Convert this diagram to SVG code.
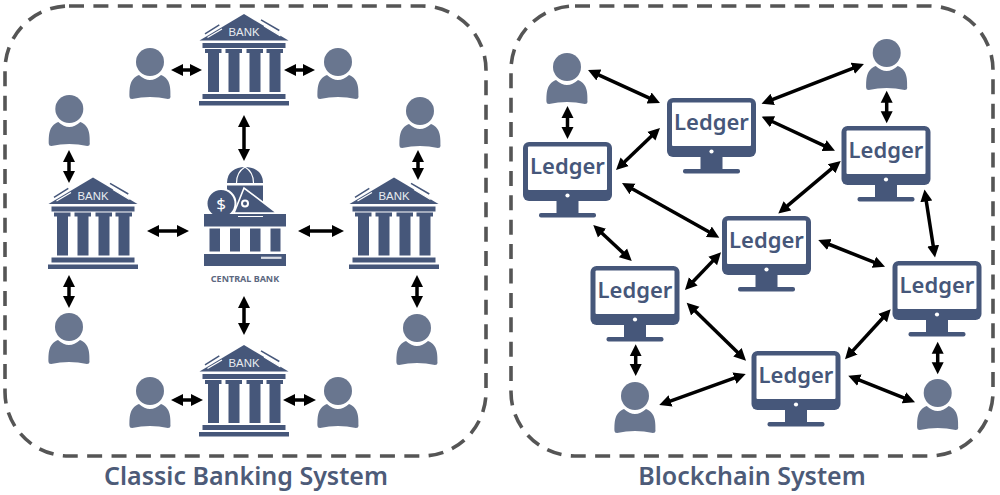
<svg xmlns="http://www.w3.org/2000/svg" width="1000" height="495" viewBox="0 0 1000 495">
<style>
.frame{fill:none;stroke:#555;stroke-width:3.6;stroke-dasharray:15 9.4}
.dark{fill:#46577a}
.person{fill:#69768f}
.cut{fill:#fff}
.conn line{stroke:#000;stroke-width:3.5;marker-start:url(#head);marker-end:url(#head)}
text{font-family:"Noto Sans","Open Sans","Liberation Sans",sans-serif}
.title{font-size:25px;font-weight:600;fill:#4d5b78;text-anchor:middle}
.ledger{font-size:22px;font-weight:600;fill:#46577a;text-anchor:middle}
.bank{font-family:"Liberation Sans",sans-serif;font-size:11.4px;fill:#e8ebf0;text-anchor:middle}
.cb{font-size:9px;font-weight:700;fill:#5c6880;text-anchor:middle}
.dollar{font-size:17px;fill:#fff;text-anchor:middle}
</style>
<defs>
<marker id="head" markerUnits="userSpaceOnUse" markerWidth="14" markerHeight="14" viewBox="0 -7 14 14" refX="4" refY="0" orient="auto-start-reverse">
<path d="M0,-6 L12,0 L0,6 Z" fill="#000"/>
</marker>
<symbol id="bank-shape" overflow="visible" viewBox="-50 0 100 100" width="100" height="100" x="-50">
<path class="dark" d="M0,0 L44.5,26.5 H-44.5 Z"/>
<path d="M-39,19.8 L-24.7,10.8 M17,5.8 L35.3,16.5" stroke="#46577a" stroke-width="1.5" fill="none"/>
<path d="M-36.5,23.5 L-22,15 M20,12 L36.5,22" stroke="#fff" stroke-width="1.2" fill="none"/>
<rect class="dark" x="-41.5" y="29" width="83" height="5"/>
<g class="dark">
<path d="M-39,35 H-22.5 V39 H-25 V78 H-36 V39 H-39 Z"/>
<path d="M-18.5,35 H-2 V39 H-4.5 V78 H-15.5 V39 H-18.5 Z"/>
<path d="M2.5,35 H19 V39 H16.5 V78 H5.5 V39 H2.5 Z"/>
<path d="M22.5,35 H39 V39 H36.5 V78 H25.5 V39 H22.5 Z"/>
</g>
<rect class="dark" x="-41.5" y="80" width="83" height="5"/>
<rect class="dark" x="-45" y="87" width="90" height="4.5"/>
</symbol>
<symbol id="person-shape" overflow="visible" viewBox="-20 -14 40 51" width="40" height="51" x="-20" y="-14">
<circle class="person" r="14"/>
<path class="person" d="M-20.5,35 C-20.5,27 -21,17 -11,13 Q0,23 11,13 C21,17 20.5,27 20.5,35 Q20.5,37 18,37 Q0,33 -18,37 Q-20.5,37 -20.5,35 Z"/>
</symbol>
<symbol id="monitor-shape" overflow="visible" viewBox="-45 0 90 76" width="90" height="76" x="-45">
<rect class="dark" x="-44.5" y="0" width="89" height="59" rx="6"/>
<rect class="cut" x="-39.5" y="4.5" width="79" height="43.5" rx="1"/>
<circle class="cut" cx="0" cy="53.5" r="2.1"/>
<rect class="dark" x="-11" y="59" width="22" height="13"/>
<rect class="dark" x="-28.5" y="71" width="57" height="4.5" rx="2"/>
</symbol>
</defs>
<rect width="1000" height="495" fill="#fff"/>
<rect class="frame" x="5" y="6" width="481" height="450" rx="64"/>
<rect class="frame" x="511" y="6" width="482" height="450" rx="64"/>
<text class="title" x="246" y="485">Classic Banking System</text>
<text class="title" x="752" y="485">Blockchain System</text>
<g class="conn" id="connectors">
<line x1="179" y1="70" x2="194" y2="70"/>
<line x1="292" y1="70" x2="307" y2="70"/>
<line x1="244" y1="123" x2="244" y2="153"/>
<line x1="155" y1="231" x2="181" y2="231"/>
<line x1="306" y1="231" x2="336" y2="231"/>
<line x1="244" y1="304" x2="244" y2="327"/>
<line x1="69" y1="158" x2="69" y2="175"/>
<line x1="418" y1="158" x2="418" y2="172"/>
<line x1="69" y1="283" x2="69" y2="300"/>
<line x1="417" y1="283" x2="417" y2="300"/>
<line x1="179" y1="400" x2="195" y2="400"/>
<line x1="291" y1="400" x2="308" y2="400"/>
<line x1="595.3" y1="73.3" x2="652.7" y2="99.7"/>
<line x1="567.5" y1="114" x2="567.5" y2="131"/>
<line x1="621.8" y1="164.5" x2="654.2" y2="133.5"/>
<line x1="629" y1="187" x2="712.3" y2="233.8"/>
<line x1="769" y1="100.8" x2="856.5" y2="66.8"/>
<line x1="769" y1="120" x2="827.7" y2="147.3"/>
<line x1="834.6" y1="166.2" x2="784.4" y2="208.3"/>
<line x1="886.7" y1="98.7" x2="886.7" y2="115.3"/>
<line x1="925.7" y1="197.4" x2="933.8" y2="249.6"/>
<line x1="825.7" y1="243" x2="877.6" y2="263.7"/>
<line x1="715.5" y1="258.1" x2="690.5" y2="284.2"/>
<line x1="599.1" y1="230.5" x2="625.9" y2="255.5"/>
<line x1="692.4" y1="308.3" x2="740.3" y2="355.1"/>
<line x1="635.7" y1="352.3" x2="635.7" y2="368"/>
<line x1="666.8" y1="402.3" x2="738.2" y2="376.7"/>
<line x1="850.4" y1="353.4" x2="885.3" y2="315.2"/>
<line x1="855.7" y1="378.7" x2="907.6" y2="399.3"/>
<line x1="937.7" y1="349.7" x2="937.7" y2="366.3"/>
</g>
<g id="bank-top" transform="translate(244,14)"><use href="#bank-shape"/><text class="bank" y="22">BANK</text></g>
<g id="bank-left" transform="translate(93,177.5)"><use href="#bank-shape"/><text class="bank" y="22">BANK</text></g>
<g id="bank-right" transform="translate(394,177.5)"><use href="#bank-shape"/><text class="bank" y="22">BANK</text></g>
<g id="bank-bottom" transform="translate(244,345)"><use href="#bank-shape"/><text class="bank" y="22">BANK</text></g>
<g id="central-bank">
<path class="dark" d="M227,183 C227,172 235,167 245,167 C255,167 263,172 263,183 Z"/>
<path d="M236.5,183 C236.5,175 240,170 245,167 C250,170 253.5,175 253.5,183" stroke="#fff" stroke-width="1.2" fill="none"/>
<rect class="dark" x="227" y="185.5" width="36" height="27"/>
<path class="dark" d="M234,213 L244,188 L277,213 Z" stroke="#fff" stroke-width="1.6"/>
<circle cx="245" cy="203.5" r="4" fill="#fff"/><circle class="dark" cx="245" cy="203.5" r="2"/>
<circle class="dark" cx="221" cy="203.5" r="14.5" stroke="#fff" stroke-width="2"/>
<text class="dollar" x="221" y="209.5">$</text>
<rect class="dark" x="204" y="214" width="82" height="12.5"/>
<rect class="cut" x="238" y="216" width="25" height="1"/>
<rect class="dark" x="209.5" y="228.5" width="10.5" height="23"/>
<rect class="dark" x="230" y="228.5" width="10" height="23"/>
<rect class="dark" x="250" y="228.5" width="10.5" height="23"/>
<rect class="dark" x="270.5" y="228.5" width="10" height="23"/>
<rect class="dark" x="204" y="254" width="82" height="12"/>
<rect class="cut" x="261" y="256.7" width="20.5" height="2.2" opacity=".8"/>
<text class="cb" x="245" y="282">CENTRAL BANK</text>
</g>
<g id="user-1" transform="translate(150,62)"><use href="#person-shape"/></g>
<g id="user-2" transform="translate(338,62)"><use href="#person-shape"/></g>
<g id="user-3" transform="translate(69.3,109)"><use href="#person-shape"/></g>
<g id="user-4" transform="translate(420,111)"><use href="#person-shape"/></g>
<g id="user-5" transform="translate(69,327)"><use href="#person-shape"/></g>
<g id="user-6" transform="translate(417,328)"><use href="#person-shape"/></g>
<g id="user-7" transform="translate(150,391)"><use href="#person-shape"/></g>
<g id="user-8" transform="translate(338,391)"><use href="#person-shape"/></g>
<g id="user-9" transform="translate(567,67)"><use href="#person-shape"/></g>
<g id="user-10" transform="translate(886.7,53)"><use href="#person-shape"/></g>
<g id="user-11" transform="translate(635,396)"><use href="#person-shape"/></g>
<g id="user-12" transform="translate(937.7,393)"><use href="#person-shape"/></g>
<g id="ledger-1" transform="translate(711.5,98)"><use href="#monitor-shape"/><text class="ledger" y="31.5">Ledger</text></g>
<g id="ledger-2" transform="translate(567.5,142)"><use href="#monitor-shape"/><text class="ledger" y="31.5">Ledger</text></g>
<g id="ledger-3" transform="translate(886,126)"><use href="#monitor-shape"/><text class="ledger" y="31.5">Ledger</text></g>
<g id="ledger-4" transform="translate(766.5,216)"><use href="#monitor-shape"/><text class="ledger" y="31.5">Ledger</text></g>
<g id="ledger-5" transform="translate(635,266)"><use href="#monitor-shape"/><text class="ledger" y="31.5">Ledger</text></g>
<g id="ledger-6" transform="translate(937,261)"><use href="#monitor-shape"/><text class="ledger" y="31.5">Ledger</text></g>
<g id="ledger-7" transform="translate(796,351)"><use href="#monitor-shape"/><text class="ledger" y="31.5">Ledger</text></g>
</svg>
